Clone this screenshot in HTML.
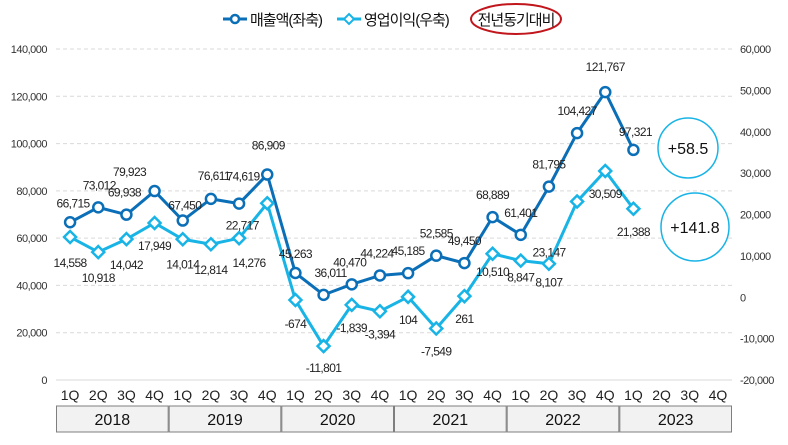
<!DOCTYPE html>
<html><head><meta charset="utf-8"><style>
body{margin:0;background:#fff}
svg text{font-family:"Liberation Sans","Noto Sans CJK KR",sans-serif}
</style></head><body>
<svg id="c" width="788" height="440" xmlns="http://www.w3.org/2000/svg"></svg>
<script>
const categories=["1Q","2Q","3Q","4Q","1Q","2Q","3Q","4Q","1Q","2Q","3Q","4Q","1Q","2Q","3Q","4Q","1Q","2Q","3Q","4Q","1Q","2Q","3Q","4Q"];
const years=["2018","2019","2020","2021","2022","2023"];
const revenue=[66715,73012,69938,79923,67450,76611,74619,86909,45263,36011,40470,44224,45185,52585,49450,68889,61401,81795,104427,121767,97321];
const opIncome=[14558,10918,14042,17949,14014,12814,14276,22717,-674,-11801,-1839,-3394,104,-7549,261,10510,8847,8107,23147,30509,21388];
const leftTicks=[0,20000,40000,60000,80000,100000,120000,140000];
const rightTicks=[-20000,-10000,0,10000,20000,30000,40000,50000,60000];
const yoy=["+58.5","+141.8"];
const revOff=[[3,-19],[1,-22],[-2,-22],[-25,-19],[2,-15],[3,-23],[4,-27],[1,-29],[0,-19],[7,-22],[-2,-22],[-3,-22],[0,-22],[0,-22],[0,-22],[0,-22],[0,-22],[0,-22],[0,-22],[0,-25],[2,-18]];
const opOff=[[0,26],[0,26],[0,26],[0,23],[0,25],[0,26],[10,25],[-25,22],[0,24],[0,22],[0,23],[0,23],[0,23],[0,23],[0,23],[0,18],[0,17],[0,19],[-28,51],[0,23],[0,23]];
const X0=56,X1=732,Y0=380,Y1=49;
const bw=(X1-X0)/categories.length;
const x=i=>X0+bw*(i+0.5);
const yL=v=>Y0-(v/140000)*(Y0-Y1);
const yR=v=>Y0-((v+20000)/80000)*(Y0-Y1);
const fmt=v=>v.toLocaleString('en-US');
const svg=document.getElementById('c');
const NS='http://www.w3.org/2000/svg';
function mk(t,a,p){const e=document.createElementNS(NS,t);for(const k in a)e.setAttribute(k,a[k]);(p||svg).appendChild(e);return e;}
function tx(s,a,p){const e=mk('text',a,p);e.textContent=s;return e;}
// grid & axes
leftTicks.forEach(v=>{
 if(v>0){const g=mk('line',{x1:X0,x2:X1,y1:yL(v),y2:yL(v),stroke:'#d9d9d9','stroke-dasharray':'4,3'});
 
 }
 const t=tx(fmt(v),{x:47,y:yL(v)+4,'text-anchor':'end','font-size':11,fill:'#333','letter-spacing':'-0.5'});
 
 
});
mk('line',{x1:X0,x2:X1,y1:Y0,y2:Y0,stroke:'#d9d9d9'});
rightTicks.forEach(v=>{
 const t=tx(fmt(v),{x:740,y:yR(v)+4,'text-anchor':'start','font-size':11,fill:'#333','letter-spacing':'-0.5'});
 
 
});
categories.forEach((c,i)=>{
 const t=tx(c,{x:x(i),y:400,'text-anchor':'middle','font-size':14,fill:'#222'});
 
 
});
years.forEach((yv,i)=>{
 const r=mk('rect',{x:X0+i*4*bw+0.5,y:406,width:4*bw-1,height:26,fill:'#f2f2f2',stroke:'#7f7f7f'});
 
 
 const t=tx(yv,{x:X0+(i*4+2)*bw,y:425,'text-anchor':'middle','font-size':16,fill:'#111'});
 
 
});
// series
function series(data,yf,color,shape,name){
 const pl=mk('polyline',{points:data.map((v,i)=>x(i)+','+yf(v)).join(' '),fill:'none',stroke:color,'stroke-width':3});
 
 
 data.forEach((v,i)=>{
  let m;
  if(shape==='c')m=mk('circle',{cx:x(i),cy:yf(v),r:5,fill:'#fff',stroke:color,'stroke-width':2.5});
  else{const cx=x(i),cy=yf(v);m=mk('polygon',{points:`${cx},${cy-6} ${cx+6},${cy} ${cx},${cy+6} ${cx-6},${cy}`,fill:'#fff',stroke:color,'stroke-width':2.5});}
  
  
 });
}
series(revenue,yL,'#0b6fb8','c','revenue');
series(opIncome,yR,'#19b4e6','d','op-income');
revenue.forEach((v,i)=>{
 const t=tx(fmt(v),{x:x(i)+revOff[i][0],y:yL(v)+revOff[i][1]+4,'text-anchor':'middle','font-size':12,fill:'#222','letter-spacing':'-0.6'});
 
 
});
opIncome.forEach((v,i)=>{
 const t=tx(fmt(v),{x:x(i)+opOff[i][0],y:yR(v)+opOff[i][1]+4,'text-anchor':'middle','font-size':12,fill:'#222','letter-spacing':'-0.6'});
 
 
});
// yoy circles
[[688,148,30],[695,227,34]].forEach((p,i)=>{
 const c=mk('circle',{cx:p[0],cy:p[1],r:p[2],fill:'#fff',stroke:'#19b4e6','stroke-width':1.5});
 
 
 const t=tx(yoy[i],{x:p[0],y:p[1]+6,'text-anchor':'middle','font-size':16,fill:'#111'});
 
 
});
// legend
const lg=mk('g',{});


mk('line',{x1:223,x2:247,y1:19,y2:19,stroke:'#0b6fb8','stroke-width':3},lg);
mk('circle',{cx:235,cy:19,r:4,fill:'#fff',stroke:'#0b6fb8','stroke-width':2.5},lg);
tx('매출액(좌축)',{x:250,y:25,'font-size':15,fill:'#111','letter-spacing':'-1'},lg);
mk('line',{x1:337,x2:361,y1:19,y2:19,stroke:'#19b4e6','stroke-width':3},lg);
mk('polygon',{points:'349,14 354,19 349,24 344,19',fill:'#fff',stroke:'#19b4e6','stroke-width':2},lg);
tx('영업이익(우축)',{x:364,y:25,'font-size':15,fill:'#111','letter-spacing':'-1'},lg);
mk('ellipse',{cx:516,cy:19,rx:45,ry:15,fill:'none',stroke:'#c0161c','stroke-width':2},lg);
tx('전년동기대비',{x:516,y:25,'text-anchor':'middle','font-size':15,fill:'#111','letter-spacing':'-1'},lg);
</script>
</body></html>
